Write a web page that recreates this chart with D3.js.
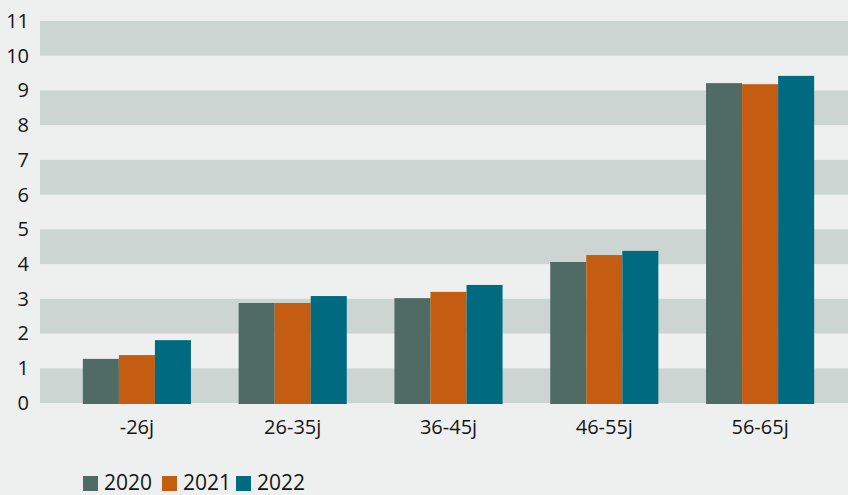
<!DOCTYPE html>
<html>
<head>
<meta charset="utf-8">
<script src="https://cdn.jsdelivr.net/npm/d3@7"></script>
<style>
  body { margin: 0; background: #eef0ef; }
  svg { display: block; font-family: "Open Sans", sans-serif; }
</style>
</head>
<body>
<div id="chart"></div>
<script>
// age groups and years
const categories = ["-26j", "26-35j", "36-45j", "46-55j", "56-65j"];
const years = ["2020", "2021", "2022"];
const v2020 = [1.27, 2.88, 3.02, 4.06, 9.21];
const v2021 = [1.38, 2.88, 3.20, 4.26, 9.18];
const v2022 = [1.81, 3.08, 3.40, 4.38, 9.42];
const yTicks = [0, 1, 2, 3, 4, 5, 6, 7, 8, 9, 10, 11];

const C = { bg: "#eef0ef", band: "#cdd5d2", text: "#151515" };
const colors = ["#4f6b63", "#c45c12", "#006b80"];
const series = [v2020, v2021, v2022];

const W = 848, H = 495;
const svg = d3.select("#chart").append("svg")
  .attr("width", W).attr("height", H);
svg.append("rect").attr("width", W).attr("height", H).attr("fill", C.bg);

const y = d3.scaleLinear().domain([0, 11]).range([403, 21]);
const x = d3.scaleBand().domain(categories).range([59, 838])
  .paddingInner(0.306).paddingOuter(0.153);
const xs = d3.scaleBand().domain(years).range([0, x.bandwidth()]);

// alternating bands
const bands = d3.range(0, 11, 2);
svg.append("g").selectAll("rect").data(bands).join("rect")
  .attr("x", 40).attr("width", W - 40)
  .attr("y", (d) => y(d + 1))
  .attr("height", (d) => y(d) - y(d + 1))
  .attr("fill", C.band);

// y axis labels
const yAxis = svg.append("g")
  .attr("transform", "translate(29,0)")
  .call(d3.axisLeft(y).tickValues(yTicks).tickSize(0).tickPadding(0));
yAxis.select(".domain").remove();
yAxis.selectAll("text")
  .attr("fill", C.text).attr("font-size", "20px")
  .attr("font-family", "Open Sans, sans-serif");

// bars
const groups = svg.append("g").selectAll("g").data(categories).join("g")
  .attr("transform", (d) => `translate(${x(d)},0)`);
groups.selectAll("rect")
  .data((d, i) => years.map((yr, k) => ({ yr, k, v: series[k][i] })))
  .join("rect")
  .attr("x", (d) => xs(d.yr))
  .attr("width", xs.bandwidth())
  .attr("y", (d) => y(d.v))
  .attr("height", (d) => y(0) - y(d.v) + 1)
  .attr("fill", (d) => colors[d.k]);

// x axis labels
const xAxis = svg.append("g")
  .attr("transform", "translate(0,420)")
  .call(d3.axisBottom(x).tickSize(0).tickPadding(0));
xAxis.select(".domain").remove();
xAxis.selectAll("text")
  .attr("fill", C.text).attr("font-size", "20px")
  .attr("font-family", "Open Sans, sans-serif");

// legend
const leg = svg.append("g").attr("transform", "translate(83,476)");
const legX = [0, 79, 153];
const li = leg.selectAll("g").data(years).join("g")
  .attr("transform", (d, i) => `translate(${legX[i]},0)`);
li.append("rect").attr("width", 15).attr("height", 15)
  .attr("fill", (d, i) => colors[i]);
li.append("text").attr("x", 21).attr("y", 14)
  .attr("fill", C.text).attr("font-size", "21px")
  .text((d) => d);
</script>
</body>
</html>
